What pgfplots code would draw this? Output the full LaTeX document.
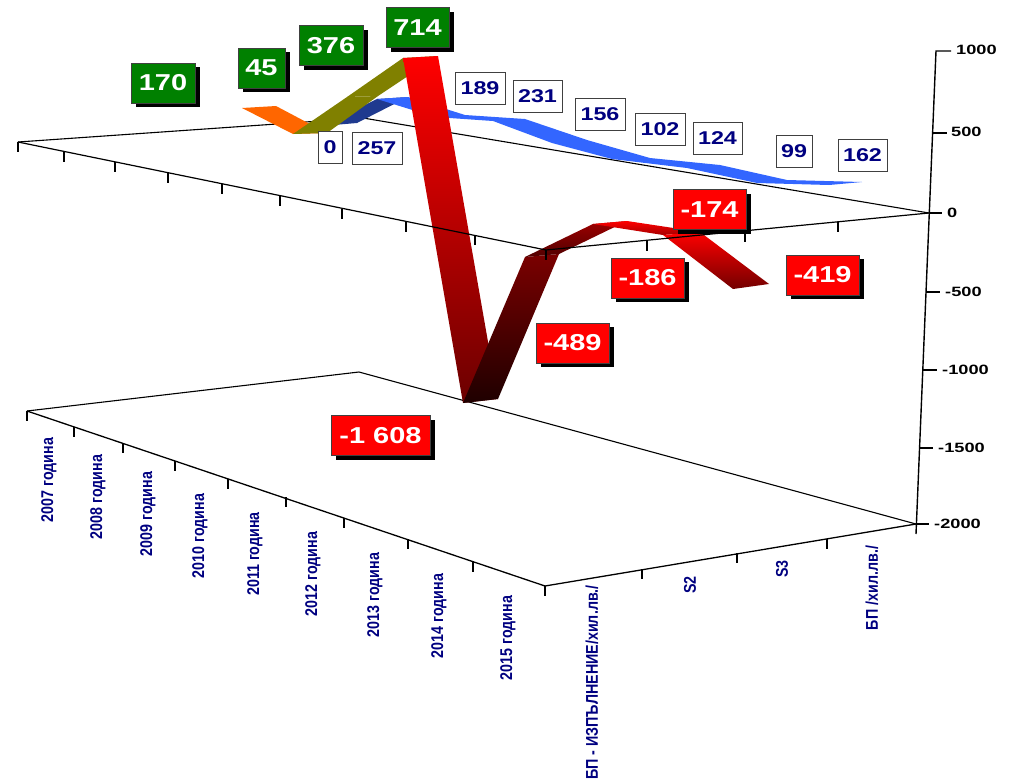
\documentclass[border=0pt]{standalone}
\usepackage{fontspec}
\usepackage{pgfplots}
\usepackage{pgfplotstable}
\pgfplotsset{compat=1.18}
\usetikzlibrary{shadows}
\setmainfont{Liberation Sans}
\newfontfamily\widef{Liberation Sans}[FakeStretch=1.26]
\newfontfamily\axisf{Liberation Sans}[FakeStretch=1.35]
\newfontfamily\narrowf{Liberation Sans}[FakeStretch=0.84]
\definecolor{navylab}{HTML}{000080}
\definecolor{ribblue}{HTML}{3366FF}
\definecolor{ribnavy}{HTML}{1F3A8F}
\definecolor{riborange}{HTML}{FF6600}
\definecolor{ribolive}{HTML}{808000}
\definecolor{boxgreen}{HTML}{008000}

% positions are read off the picture in pixels (the chart is a perspective view)
\pgfplotstableread[col sep=comma]{
x,y,w,lab
163,83,64,170
261.5,68,47,45
331,45.5,64,376
417.5,27.5,63,714
}\greenlabels
\pgfplotstableread[col sep=comma]{
x,y,w,lab
380.5,435.5,99,-1 608
572.5,343,73,-489
709.5,209.5,73,-174
647.5,278,73,-186
822.5,275,73,-419
}\redlabels
\pgfplotstableread[col sep=comma]{
x,y,w,lab
330,147,24,0
377,148,50,257
480,88,50,189
537.5,96.5,49,231
600,114.5,50,156
660,129,50,102
717.5,138,49,124
794,151,36,99
862.5,155,49,162
}\bluelabels
\pgfplotstableread[col sep=comma]{
x,y,lab
49,480,2007 година
98,497,2008 година
148,514,2009 година
200,536,2010 година
255,554,2011 година
313,574,2012 година
375,595,2013 година
439,616,2014 година
508,638,2015 година
592,682.5,БП - ИЗПЪЛНЕНИЕ/хил.лв./
690,585,S2
782,569,S3
872,588,БП /хил.лв./
}\catlabels
\pgfplotstableread[col sep=comma]{
x,y,lab
956,50,1000
951,132,500
947,213,0
945,292,-500
942,370,-1000
938,448,-1500
934,524,-2000
}\valuelabels

\begin{document}
\begin{tikzpicture}
\begin{axis}[
    scale only axis,
    width=1018pt,
    height=782pt,
    xmin=0, xmax=1018,
    ymin=0, ymax=782,
    y dir=reverse,
    hide axis,
    clip=false,
    unbounded coords=jump,
    databox/.style={
        draw=none,
        point meta=explicit symbolic,
        visualization depends on=\thisrow{w} \as \bw,
        nodes near coords,
        nodes near coords style={
            anchor=center, inner sep=0pt, minimum width=\bw pt,
            draw=black!75, line width=1pt},
    },
]
% page corners
\addplot[draw=none] coordinates {(0,0) (1018,782)};

% back edges
\addplot[black, line width=1.1pt] coordinates {(18,142) (363,118) (929,213)};
\addplot[black, line width=1.1pt] coordinates {(27,411) (359,372) (916,524)};

% blue ribbon, БП /хил.лв./
\addplot[draw=none, fill=ribnavy] coordinates {(322,126) (357,123) (408,97) (377,99)};
\addplot[draw=none, fill=ribblue] coordinates {(377,99) (408,97) (465,115) (525,119) (587,140) (650,158)
    (720,165) (787,180) (862,182) (829,185) (757,183) (687,168) (612,159) (552,143) (493,121) (435,117)};

% red/green ribbon, БП - ИЗПЪЛНЕНИЕ
\addplot[draw=none, fill=riborange] coordinates {(242,108) (276,106) (327,133) (293,134)};
\addplot[draw=none, fill=ribolive] coordinates {(293,134) (327,133) (378,96) (347,97)};
\addplot[draw=none, fill=ribolive] coordinates {(347,97) (378,96) (438,56) (403,58)};
\addplot[draw=none, top color=red, bottom color=red!42!black] coordinates {(403,58) (438,56) (498,399) (463,403)};
\addplot[draw=none, top color=red!48!black, bottom color=red!12!black] coordinates {(463,403) (498,399) (559,254) (525,257)};
\addplot[draw=none, top color=red!62!black, bottom color=red!32!black] coordinates {(525,257) (559,254) (627,221) (593,224)};
\addplot[draw=none, top color=red, bottom color=red!65!black] coordinates {(593,224) (627,221) (700,232) (663,235)};
\addplot[draw=none, top color=red, bottom color=red!45!black] coordinates {(663,235) (700,232) (769,284) (733,289)};

% front edges of the zero plane and of the floor
\addplot[black, line width=1.2pt] coordinates {(18,142) (546,250) (929,213)};
\addplot[black, line width=1.3pt] coordinates {(27,411) (545,586) (916,524)};

% ticks
\addplot[black, line width=1.2pt] coordinates {
    (18,142) (18,152) (nan,nan) (64,152) (64,162) (nan,nan) (115,162) (115,172) (nan,nan)
    (168,173) (168,183) (nan,nan) (222,184) (222,194) (nan,nan) (280,196) (280,206) (nan,nan)
    (342,209) (342,219) (nan,nan) (406,222) (406,232) (nan,nan) (475,235) (475,245) (nan,nan)
    (546,250) (546,260) (nan,nan) (647,241) (647,251) (nan,nan) (745,232) (745,242) (nan,nan)
    (838,222) (838,232) (nan,nan)
    (27,411) (27,421) (nan,nan) (74,427) (74,437) (nan,nan) (123,443) (123,453) (nan,nan)
    (175,461) (175,471) (nan,nan) (228,479) (228,489) (nan,nan) (286,497) (286,507) (nan,nan)
    (344,518) (344,528) (nan,nan) (408,539) (408,549) (nan,nan) (473,562) (473,572) (nan,nan)
    (545,586) (545,596) (nan,nan) (642,569) (642,579) (nan,nan) (737,553) (737,563) (nan,nan)
    (827,539) (827,549) (nan,nan)
};

% value axis
\addplot[black, line width=1.4pt] coordinates {(951,51) (936,51) (916,534)};
\addplot[black, line width=1.2pt] coordinates {
    (932,133) (947,133) (nan,nan) (929,213) (942,213) (nan,nan) (926,292) (940,292) (nan,nan)
    (923,370) (937,370) (nan,nan) (919,448) (933,448) (nan,nan) (916,524) (929,524)
};

% axis texts
\addplot[draw=none, point meta=explicit symbolic, nodes near coords,
    nodes near coords style={anchor=west, inner sep=0pt, text=black,
        font=\axisf\bfseries\fontsize{13.5}{13.5}\selectfont}]
    table[x=x, y=y, meta=lab, col sep=comma] {\valuelabels};
\addplot[draw=none, point meta=explicit symbolic, nodes near coords,
    nodes near coords style={anchor=center, inner sep=0pt, rotate=90, text=navylab,
        font=\narrowf\bfseries\fontsize{17}{17}\selectfont}]
    table[x=x, y=y, meta=lab, col sep=comma] {\catlabels};

% data labels
\addplot[databox, nodes near coords style={fill=boxgreen, text=white, minimum height=40pt,
        general shadow={shadow xshift=5pt, shadow yshift=-4pt, fill=black},
        font=\widef\bfseries\fontsize{23}{23}\selectfont}]
    table[x=x, y=y, meta=lab, col sep=comma] {\greenlabels};
\addplot[databox, nodes near coords style={fill=red, text=white, minimum height=40pt,
        general shadow={shadow xshift=5pt, shadow yshift=-4pt, fill=black},
        font=\widef\bfseries\fontsize{23}{23}\selectfont}]
    table[x=x, y=y, meta=lab, col sep=comma] {\redlabels};
\addplot[databox, nodes near coords style={fill=white, text=navylab, minimum height=32pt,
        font=\widef\bfseries\fontsize{18.5}{18.5}\selectfont}]
    table[x=x, y=y, meta=lab, col sep=comma] {\bluelabels};
\end{axis}
\end{tikzpicture}
\end{document}
